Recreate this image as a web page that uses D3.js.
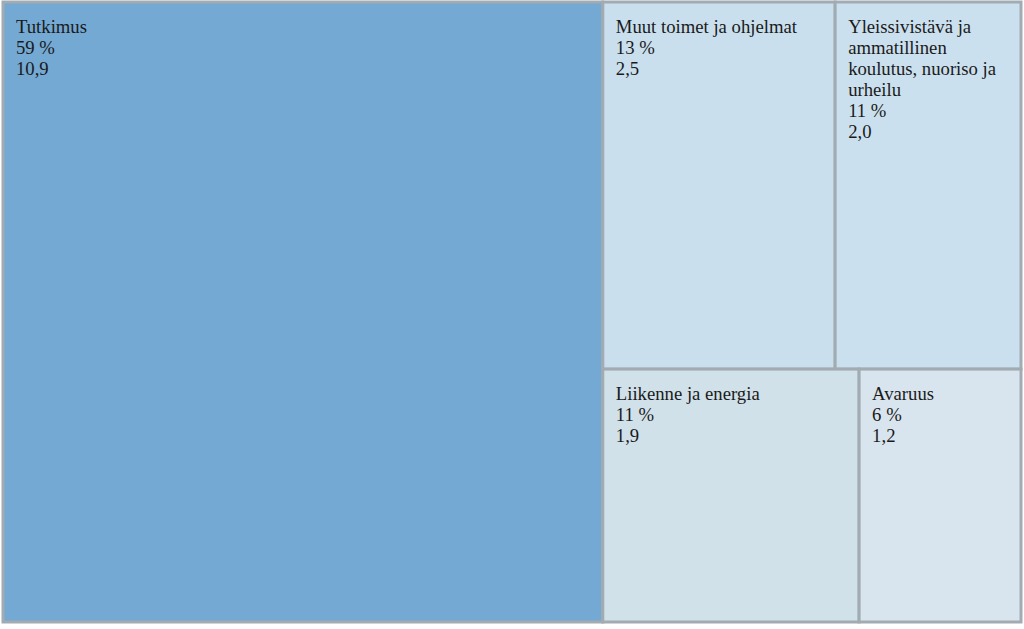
<!DOCTYPE html>
<html>
<head>
<meta charset="utf-8">
<script src="https://cdn.jsdelivr.net/npm/d3@7"></script>
<style>
  body { margin: 0; background: #fff; }
  svg { display: block; }
</style>
</head>
<body>
<svg></svg>
<script>
const width = 1024, height = 629;

// data
const names = ["Tutkimus", "Muut toimet ja ohjelmat", "Yleissivistävä ja\nammatillinen\nkoulutus, nuoriso ja\nurheilu", "Liikenne ja energia", "Avaruus"];
const percents = ["59 %", "13 %", "11 %", "11 %", "6 %"];
const amounts = [10.9, 2.5, 2.0, 1.9, 1.2];
const colors = ["#73a9d3", "#c9dfed", "#cbe0ee", "#d1e1ea", "#d9e5ee"];

let svg = d3.select("svg").attr("width", width).attr("height", height);

let root = d3.hierarchy({children: names.map((n, i) => ({name: n, pct: percents[i], value: amounts[i], color: colors[i]}))})
  .sum(d => d.value || 0);

d3.treemap()
  .tile(d3.treemapSquarify)
  .size([1018, 620])
  (root);

let cell = svg.append("g")
  .attr("transform", "translate(3, 2)")
  .selectAll("g").data(root.leaves())
  .enter().append("g")
  .attr("transform", d => `translate(${d.x0}, ${d.y0})`);

cell.append("rect")
  .attr("width", d => d.x1 - d.x0)
  .attr("height", d => d.y1 - d.y0)
  .attr("fill", d => d.data.color)
  .attr("stroke", "#a2abb2")
  .attr("stroke-width", 3);

cell.append("text")
  .attr("font-family", "'Liberation Serif', 'DejaVu Serif', serif")
  .attr("font-size", 18.7)
  .attr("fill", "#1a1a1a")
  .selectAll("tspan")
  .data(d => d.data.name.split("\n").concat([d.data.pct, d3.format(".1f")(d.data.value).replace(".", ",")]))
  .enter().append("tspan")
  .attr("x", 13)
  .attr("y", (t, i) => 31 + i * 21)
  .text(t => t);
</script>
</body>
</html>
